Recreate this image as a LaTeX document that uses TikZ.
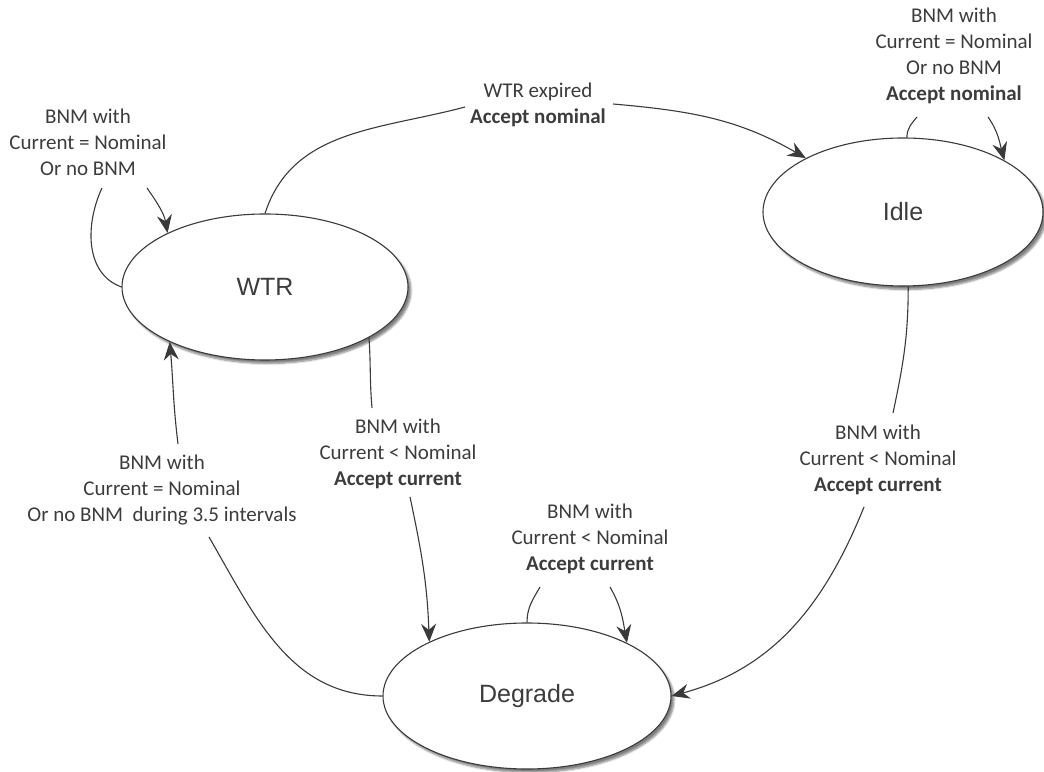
\documentclass[tikz,border=0pt]{standalone}
\usepackage{fontspec}
\setmainfont{Carlito}
\newfontfamily\statefont{Liberation Sans}
\usetikzlibrary{shapes.geometric,arrows.meta,shadows.blur}

\definecolor{ink}{HTML}{3A3A3A}
\definecolor{txt}{HTML}{3C3C3C}

\tikzset{
  state/.style={ellipse, draw=ink, line width=1.1pt, fill=white, inner sep=0pt,
    font=\statefont\fontsize{25}{29}\selectfont, text=txt,
    blur shadow={shadow xshift=3pt, shadow yshift=-3.5pt, shadow blur steps=6, shadow opacity=50}},
  cond/.style={align=center, inner sep=0pt, text=txt, font=\fontsize{21}{26}\selectfont},
  edge/.style={draw=ink, line width=1.1pt},
  tip/.style={edge, -{Stealth[length=18pt, width=15pt, inset=6pt]}}
}

\begin{document}
\begin{tikzpicture}[x=1pt, y=1pt]
  \useasboundingbox (0,0) rectangle (1044,771);

  % states
  \node[state, minimum width=286pt, minimum height=146pt] (wtr) at (265,484) {WTR};
  \node[state, minimum width=280pt, minimum height=148pt] (idle) at (903,559) {Idle};
  \node[state, minimum width=288pt, minimum height=146pt] (deg) at (527,75) {Degrade};

  % transition conditions
  \node[cond] (cwtr) at (88,629) {BNM with\\Current = Nominal\\Or no BNM};
  \node[cond] (cexp) at (538,666) {WTR expired\\\textbf{Accept nominal}};
  \node[cond] (cidle) at (954,715) {BNM with\\Current = Nominal\\Or no BNM\\\textbf{Accept nominal}};
  \node[cond] (cwd) at (398,317) {BNM with\\Current < Nominal\\\textbf{Accept current}};
  \node[cond] (cdw) at (162,281) {BNM with\\Current = Nominal\\Or no BNM\ \ during 3.5 intervals};
  \node[cond] (cid) at (878,311) {BNM with\\Current < Nominal\\\textbf{Accept current}};
  \node[cond] (cdeg) at (590,232) {BNM with\\Current < Nominal\\\textbf{Accept current}};

  % WTR stays in WTR
  \draw[edge] (wtr.180) to[out=160, in=-115] ([shift={(14,-46)}]cwtr.center);
  \draw[tip] ([shift={(59,-46)}]cwtr.center) to[out=-55, in=100] (wtr.151);

  % WTR to Idle
  \draw[edge] (wtr.90) to[out=72, in=195] ([shift={(-73,-2)}]cexp.center);
  \draw[tip] ([shift={(75,1)}]cexp.center) to[out=-5, in=150] (idle.151);

  % Idle stays in Idle
  \draw[edge] (idle.87) to[out=90, in=-130] ([shift={(-37,-61)}]cidle.center);
  \draw[tip] ([shift={(34,-61)}]cidle.center) to[out=-55, in=105] (idle.27);

  % WTR to Degrade
  \draw[edge] (wtr.-26) to[out=-86, in=95] ([shift={(-26,46)}]cwd.center);
  \draw[tip] ([shift={(12,-43)}]cwd.center) to[out=-78, in=92] (deg.151);

  % Degrade back to WTR
  \draw[edge] (deg.180) to[out=180, in=-60] ([shift={(47,-47)}]cdw.center);
  \draw[tip] ([shift={(16,46)}]cdw.center) to[out=97, in=-85] (wtr.-150);

  % Idle to Degrade
  \draw[edge] (idle.-86) to[out=-90, in=78] ([shift={(15,47)}]cid.center);
  \draw[tip] ([shift={(-14,-47)}]cid.center) to[out=-112, in=15] (deg.0);

  % Degrade stays in Degrade
  \draw[edge] (deg.90) to[out=90, in=-120] ([shift={(-50,-48)}]cdeg.center);
  \draw[tip] ([shift={(20,-48)}]cdeg.center) to[out=-60, in=100] (deg.28);
\end{tikzpicture}
\end{document}
